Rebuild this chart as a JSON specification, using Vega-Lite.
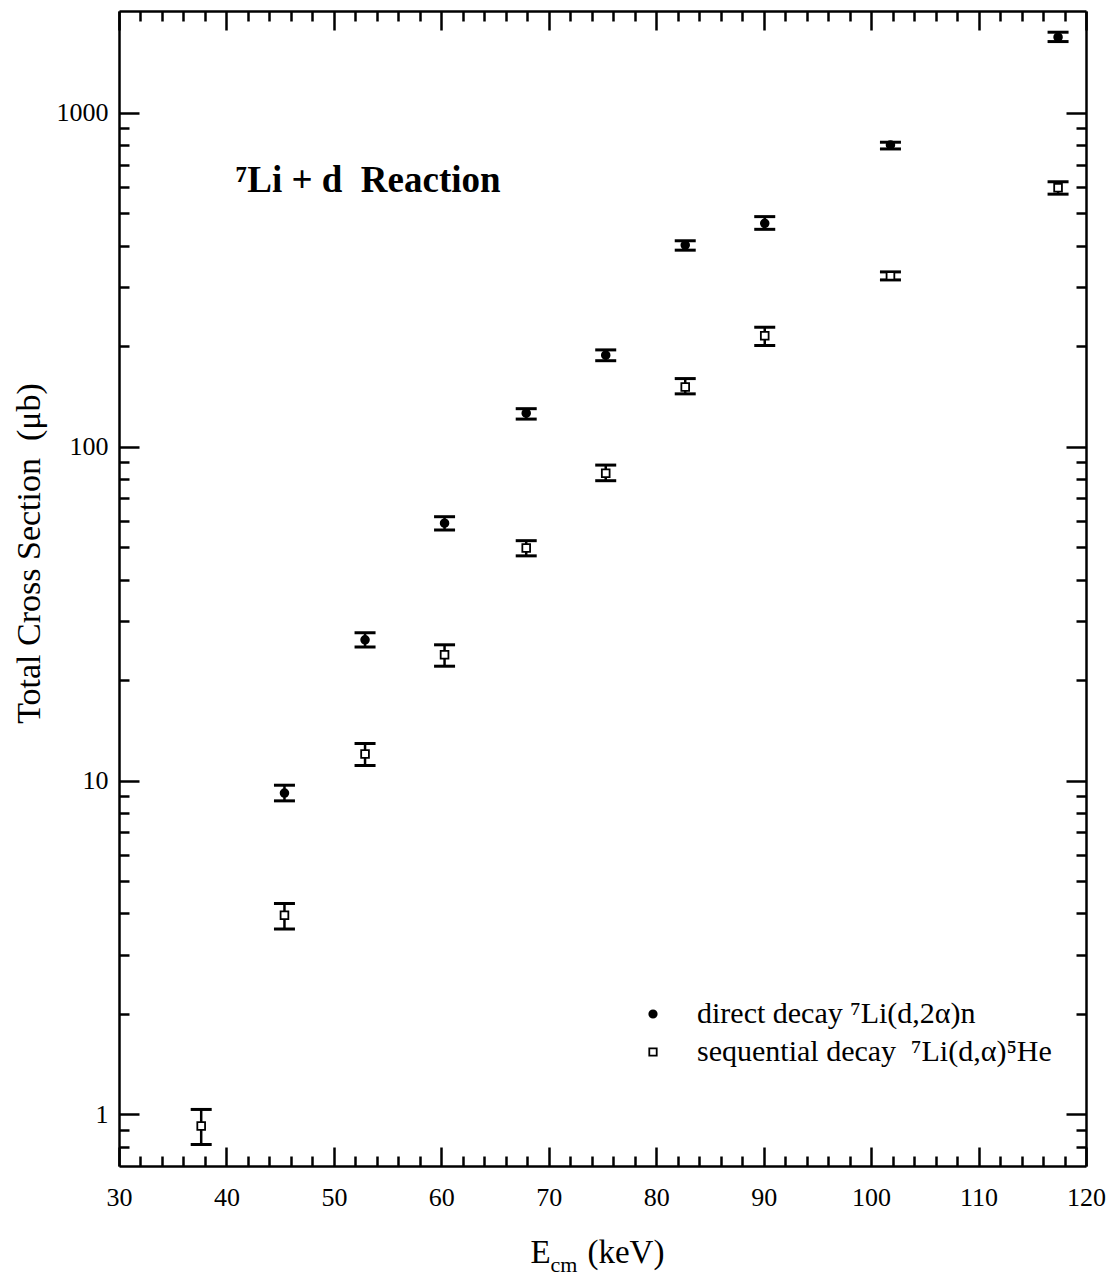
{
  "$schema": "https://vega.github.io/schema/vega-lite/v6.json",
  "width": 967,
  "height": 1155,
  "autosize": {"type": "none"},
  "padding": {"left": 119, "top": 11, "right": 26, "bottom": 111},
  "background": "white",
  "config": {
    "view": {"stroke": null},
    "font": "Liberation Serif",
    "axis": {
      "grid": false,
      "domainColor": "black",
      "domainWidth": 2.5,
      "tickColor": "black",
      "tickWidth": 2.5,
      "labelColor": "black",
      "labelFont": "Liberation Serif",
      "labelFontSize": 26,
      "titleFont": "Liberation Serif",
      "titleFontWeight": "normal",
      "titleColor": "#000000"
    },
    "legend": {
      "labelFont": "Liberation Serif",
      "labelFontSize": 30,
      "labelColor": "black",
      "labelLimit": 0
    }
  },
  "datasets": {
    "xsec": [
      {"E": 45.4, "sigma": 9.17, "lo": 8.69, "hi": 9.68, "series": "direct decay ⁷Li(d,2α)n"},
      {"E": 52.9, "sigma": 26.4, "lo": 25.1, "hi": 27.7, "series": "direct decay ⁷Li(d,2α)n"},
      {"E": 60.3, "sigma": 59.0, "lo": 56.3, "hi": 61.7, "series": "direct decay ⁷Li(d,2α)n"},
      {"E": 67.9, "sigma": 126, "lo": 121, "hi": 130, "series": "direct decay ⁷Li(d,2α)n"},
      {"E": 75.3, "sigma": 188, "lo": 181, "hi": 195, "series": "direct decay ⁷Li(d,2α)n"},
      {"E": 82.7, "sigma": 402, "lo": 388, "hi": 414, "series": "direct decay ⁷Li(d,2α)n"},
      {"E": 90.1, "sigma": 467, "lo": 448, "hi": 489, "series": "direct decay ⁷Li(d,2α)n"},
      {"E": 101.8, "sigma": 802, "lo": 780, "hi": 817, "series": "direct decay ⁷Li(d,2α)n"},
      {"E": 117.4, "sigma": 1686, "lo": 1636, "hi": 1745, "series": "direct decay ⁷Li(d,2α)n"},
      {"E": 37.65, "sigma": 0.923, "lo": 0.812, "hi": 1.034, "series": "sequential decay  ⁷Li(d,α)⁵He"},
      {"E": 45.4, "sigma": 3.95, "lo": 3.59, "hi": 4.28, "series": "sequential decay  ⁷Li(d,α)⁵He"},
      {"E": 52.9, "sigma": 12.0, "lo": 11.1, "hi": 12.9, "series": "sequential decay  ⁷Li(d,α)⁵He"},
      {"E": 60.3, "sigma": 23.8, "lo": 22.0, "hi": 25.5, "series": "sequential decay  ⁷Li(d,α)⁵He"},
      {"E": 67.9, "sigma": 49.7, "lo": 47.1, "hi": 52.3, "series": "sequential decay  ⁷Li(d,α)⁵He"},
      {"E": 75.3, "sigma": 83.3, "lo": 79.1, "hi": 88.1, "series": "sequential decay  ⁷Li(d,α)⁵He"},
      {"E": 82.7, "sigma": 151, "lo": 144, "hi": 160, "series": "sequential decay  ⁷Li(d,α)⁵He"},
      {"E": 90.1, "sigma": 215, "lo": 201, "hi": 228, "series": "sequential decay  ⁷Li(d,α)⁵He"},
      {"E": 101.8, "sigma": 325, "lo": 316, "hi": 334, "series": "sequential decay  ⁷Li(d,α)⁵He"},
      {"E": 117.4, "sigma": 597, "lo": 571, "hi": 622, "series": "sequential decay  ⁷Li(d,α)⁵He"}
    ]
  },
  "data": {"name": "xsec"},
  "layer": [
    {
      "mark": {"type": "rule", "color": "black", "strokeWidth": 2.5},
      "encoding": {
        "x": {
          "field": "E", "type": "quantitative",
          "scale": {"domain": [30, 120], "nice": false, "zero": false},
          "axis": {
            "orient": "bottom",
            "title": null,
            "values": [30,32,34,36,38,40,42,44,46,48,50,52,54,56,58,60,62,64,66,68,70,72,74,76,78,80,82,84,86,88,90,92,94,96,98,100,102,104,106,108,110,112,114,116,118,120],
            "format": "d",
            "labelExpr": "datum.value % 10 === 0 ? datum.label : ''",
            "tickSize": {"condition": {"test": "datum.value % 10 === 0", "value": -19}, "value": -10},
            "labelPadding": 37,
            "labelFlush": false,
            "labelOverlap": false
          }
        },
        "y": {
          "field": "lo", "type": "quantitative",
          "scale": {"type": "log", "domain": [0.7, 2020], "nice": false},
          "axis": {
            "orient": "left",
            "title": "Total Cross Section\u00a0\u00a0(μb)",
            "titleColor": "#000000",
            "titleFontSize": 34,
            "titleAngle": -90,
            "titleAlign": "center",
            "titleBaseline": "middle",
            "titleX": -90,
            "titleY": 542,
            "values": [0.8,0.9,1,2,3,4,5,6,7,8,9,10,20,30,40,50,60,70,80,90,100,200,300,400,500,600,700,800,900,1000],
            "format": "d",
            "labelExpr": "(datum.value == 1 || datum.value == 10 || datum.value == 100 || datum.value == 1000) ? datum.label : ''",
            "tickSize": {"condition": {"test": "datum.value == 1 || datum.value == 10 || datum.value == 100 || datum.value == 1000", "value": -20}, "value": -10},
            "labelPadding": 31,
            "labelFlush": false,
            "labelOverlap": false
          }
        },
        "y2": {"field": "hi"}
      }
    },
    {
      "mark": {"type": "tick", "orient": "horizontal", "color": "black", "size": 21, "thickness": 3, "opacity": 1},
      "encoding": {
        "x": {"field": "E", "type": "quantitative", "scale": {"domain": [30, 120], "nice": false, "zero": false}, "axis": null},
        "y": {"field": "hi", "type": "quantitative", "scale": {"type": "log", "domain": [0.7, 2020], "nice": false}, "axis": null}
      }
    },
    {
      "mark": {"type": "tick", "orient": "horizontal", "color": "black", "size": 21, "thickness": 3, "opacity": 1},
      "encoding": {
        "x": {"field": "E", "type": "quantitative", "scale": {"domain": [30, 120], "nice": false, "zero": false}, "axis": null},
        "y": {"field": "lo", "type": "quantitative", "scale": {"type": "log", "domain": [0.7, 2020], "nice": false}, "axis": null}
      }
    },
    {
      "mark": {"type": "point", "filled": false, "strokeWidth": 1.8, "opacity": 1},
      "encoding": {
        "x": {
          "field": "E", "type": "quantitative",
          "scale": {"domain": [30, 120], "nice": false, "zero": false},
          "axis": {
            "orient": "top",
            "title": null,
            "labels": false,
            "values": [30,32,34,36,38,40,42,44,46,48,50,52,54,56,58,60,62,64,66,68,70,72,74,76,78,80,82,84,86,88,90,92,94,96,98,100,102,104,106,108,110,112,114,116,118,120],
            "tickSize": {"condition": {"test": "datum.value % 10 === 0", "value": -19}, "value": -10}
          }
        },
        "y": {
          "field": "sigma", "type": "quantitative",
          "scale": {"type": "log", "domain": [0.7, 2020], "nice": false},
          "axis": {
            "orient": "right",
            "title": null,
            "labels": false,
            "values": [0.8,0.9,1,2,3,4,5,6,7,8,9,10,20,30,40,50,60,70,80,90,100,200,300,400,500,600,700,800,900,1000],
            "tickSize": {"condition": {"test": "datum.value == 1 || datum.value == 10 || datum.value == 100 || datum.value == 1000", "value": -20}, "value": -10}
          }
        },
        "shape": {
          "field": "series", "type": "nominal",
          "scale": {"domain": ["direct decay ⁷Li(d,2α)n", "sequential decay  ⁷Li(d,α)⁵He"], "range": ["circle", "square"]},
          "legend": {
            "title": null, "orient": "none", "legendX": 519, "legendY": 988,
            "padding": 0, "symbolSize": 55, "symbolStrokeWidth": 1.8,
            "labelOffset": 29, "rowPadding": 8,
            "labelExpr": "replace(datum.label, '  ', '\u00a0\u00a0')"
          }
        },
        "fill": {
          "field": "series", "type": "nominal",
          "scale": {"domain": ["direct decay ⁷Li(d,2α)n", "sequential decay  ⁷Li(d,α)⁵He"], "range": ["black", "white"]},
          "legend": {
            "title": null, "orient": "none", "legendX": 519, "legendY": 988,
            "padding": 0, "symbolSize": 55, "symbolStrokeWidth": 1.8,
            "labelOffset": 29, "rowPadding": 8,
            "labelExpr": "replace(datum.label, '  ', '\u00a0\u00a0')"
          }
        },
        "stroke": {
          "field": "series", "type": "nominal",
          "scale": {"domain": ["direct decay ⁷Li(d,2α)n", "sequential decay  ⁷Li(d,α)⁵He"], "range": ["black", "black"]},
          "legend": {
            "title": null, "orient": "none", "legendX": 519, "legendY": 988,
            "padding": 0, "symbolSize": 55, "symbolStrokeWidth": 1.8,
            "labelOffset": 29, "rowPadding": 8,
            "labelExpr": "replace(datum.label, '  ', '\u00a0\u00a0')"
          }
        },
        "size": {"value": 60}
      }
    },
    {
      "data": {"values": [{}]},
      "mark": {"type": "text", "text": "⁷Li + d\u00a0\u00a0Reaction", "font": "Liberation Serif", "fontWeight": "bold", "fontSize": 37, "align": "left", "baseline": "alphabetic", "color": "black"},
      "encoding": {
        "x": {"datum": 40.9, "type": "quantitative", "scale": {"domain": [30, 120], "nice": false, "zero": false}, "axis": null},
        "y": {"datum": 580, "type": "quantitative", "scale": {"type": "log", "domain": [0.7, 2020], "nice": false}, "axis": null}
      }
    },
    {
      "data": {"values": [{}]},
      "mark": {"type": "text", "text": "E", "font": "Liberation Serif", "fontSize": 33, "align": "left", "baseline": "alphabetic", "color": "black", "dy": 97},
      "encoding": {
        "x": {"datum": 68.3, "type": "quantitative", "scale": {"domain": [30, 120], "nice": false, "zero": false}, "axis": null},
        "y": {"datum": 0.7, "type": "quantitative", "scale": {"type": "log", "domain": [0.7, 2020], "nice": false}, "axis": null}
      }
    },
    {
      "data": {"values": [{}]},
      "mark": {"type": "text", "text": "cm", "font": "Liberation Serif", "fontSize": 22, "align": "left", "baseline": "alphabetic", "color": "black", "dy": 106},
      "encoding": {
        "x": {"datum": 70.15, "type": "quantitative", "scale": {"domain": [30, 120], "nice": false, "zero": false}, "axis": null},
        "y": {"datum": 0.7, "type": "quantitative", "scale": {"type": "log", "domain": [0.7, 2020], "nice": false}, "axis": null}
      }
    },
    {
      "data": {"values": [{}]},
      "mark": {"type": "text", "text": "(keV)", "font": "Liberation Serif", "fontSize": 33, "align": "left", "baseline": "alphabetic", "color": "black", "dy": 97},
      "encoding": {
        "x": {"datum": 73.6, "type": "quantitative", "scale": {"domain": [30, 120], "nice": false, "zero": false}, "axis": null},
        "y": {"datum": 0.7, "type": "quantitative", "scale": {"type": "log", "domain": [0.7, 2020], "nice": false}, "axis": null}
      }
    }
  ],
  "resolve": {"axis": {"x": "independent", "y": "independent"}}
}
